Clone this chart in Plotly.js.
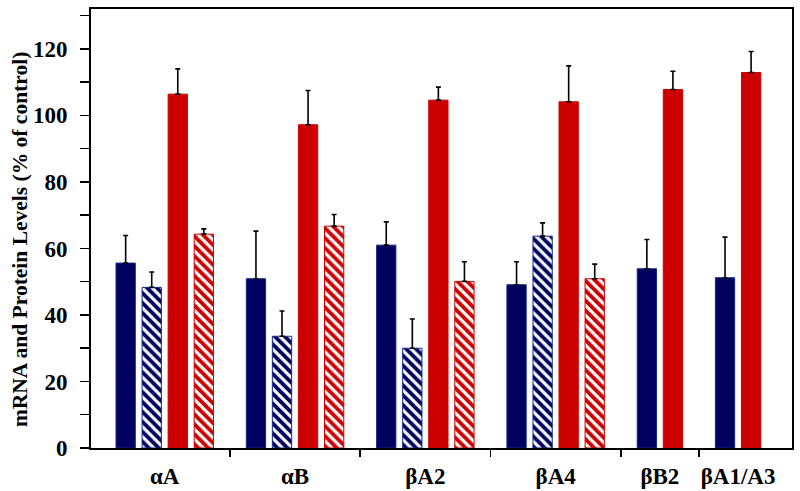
<!DOCTYPE html>
<html>
<head>
<meta charset="utf-8">
<script src="https://cdn.plot.ly/plotly-3.0.1.min.js"></script>
<style>
  html, body { margin: 0; padding: 0; background: #fff; }
  #chart { width: 800px; height: 491px; }
</style>
</head>
<body>
<div id="chart"></div>
<script>
// ---- data ----
const categories = ['αA', 'αB', 'βA2', 'βA4', 'βB2', 'βA1/A3'];

const navySolid       = [55.6, 50.9, 61.0, 49.1, 53.9, 51.2];
const navySolidErr    = [8.3, 14.3, 7.0, 6.9, 8.8, 12.2];

const navyHatched     = [48.3, 33.6, 30.0, 63.7, null, null];
const navyHatchedErr  = [4.6, 7.6, 8.8, 4.0, null, null];

const redSolid        = [106.4, 97.2, 104.6, 104.1, 107.8, 112.9];
const redSolidErr     = [7.6, 10.3, 3.9, 10.8, 5.5, 6.3];

const redHatched      = [64.3, 66.7, 50.1, 50.9, null, null];
const redHatchedErr   = [1.6, 3.5, 5.9, 4.4, null, null];

const yTicks = [0, 20, 40, 60, 80, 100, 120];
const yTitle = 'mRNA and Protein Levels (% of control)';

// ---- styling ----
const NAVY = '#00005e';
const NAVY_LINE = '#102a8c';
const RED = '#cc0000';
const FONT = 'Liberation Serif, Times New Roman, serif';

const series = [
  { name: 'Series 1', vals: navySolid,   errs: navySolidErr,   color: NAVY, line: NAVY_LINE, hatch: false },
  { name: 'Series 2', vals: navyHatched, errs: navyHatchedErr, color: NAVY, line: NAVY_LINE, hatch: true },
  { name: 'Series 3', vals: redSolid,    errs: redSolidErr,    color: RED,  line: RED,       hatch: false },
  { name: 'Series 4', vals: redHatched,  errs: redHatchedErr,  color: RED,  line: RED,       hatch: true }
];

// sequential slot layout: present bars of a group side by side, one empty slot between groups
const xPos = series.map(() => []);
const centers = [];
const bounds = [];
let slot = 0;
categories.forEach((c, gi) => {
  const start = slot;
  series.forEach((s, si) => {
    if (s.vals[gi] !== null) { xPos[si].push(slot); slot++; }
    else xPos[si].push(null);
  });
  centers.push((start + slot - 1) / 2);
  if (gi < categories.length - 1) bounds.push(slot);
  slot++;
});

const traces = series.map((s, si) => {
  const marker = { color: s.color, line: { color: s.line, width: 1 } };
  if (s.hatch) {
    marker.pattern = { shape: '\\', bgcolor: s.color, fgcolor: '#ffffff', size: 7, solidity: 0.45, fillmode: 'replace' };
  }
  return {
    type: 'bar',
    name: s.name,
    x: xPos[si],
    y: s.vals,
    width: 0.74,
    marker: marker,
    error_y: {
      type: 'data', symmetric: false,
      array: s.errs, arrayminus: s.errs.map(() => 0),
      color: '#000', thickness: 1.6, width: 2.5
    },
    showlegend: false,
    hoverinfo: 'x+y'
  };
});

// invisible trace to carry the boundary tick axis
traces.push({ type: 'scatter', x: [], y: [], xaxis: 'x2', yaxis: 'y', showlegend: false, hoverinfo: 'skip' });

const xr = [-1.33, 25.57];

const layout = {
  width: 800, height: 491,
  margin: { l: 91, r: 8, t: 9, b: 43 },
  paper_bgcolor: '#fff', plot_bgcolor: '#fff',
  barmode: 'overlay',
  font: { family: FONT, color: '#000', weight: 700 },
  xaxis: {
    range: xr, showgrid: false, zeroline: false,
    showline: true, linecolor: '#000', linewidth: 2, mirror: true,
    tickmode: 'array', tickvals: centers, ticktext: categories,
    ticks: '', tickfont: { family: FONT, size: 23, weight: 700, color: '#000' },
    ticklabelstandoff: 6
  },
  xaxis2: {
    overlaying: 'x', anchor: 'y', side: 'bottom', range: xr,
    showgrid: false, zeroline: false, showline: false,
    tickmode: 'array', tickvals: bounds, ticktext: bounds.map(() => ''),
    ticks: 'outside', ticklen: 8, tickwidth: 1.5, tickcolor: '#000'
  },
  yaxis: {
    range: [0, 132], showgrid: false, zeroline: false,
    showline: true, linecolor: '#000', linewidth: 2, mirror: true,
    tickmode: 'array', tickvals: yTicks,
    ticks: 'outside', ticklen: 9, tickwidth: 1.5, tickcolor: '#000',
    minor: { dtick: 10, ticks: 'outside', ticklen: 9, tickwidth: 1.5, tickcolor: '#000' },
    tickfont: { family: FONT, size: 23, weight: 700, color: '#000' },
    ticklabelstandoff: 8
  },
  annotations: [{
    text: yTitle, textangle: -90, showarrow: false,
    xref: 'paper', yref: 'paper', x: -0.101, y: 0.474,
    xanchor: 'center', yanchor: 'middle',
    font: { family: FONT, size: 21.5, weight: 700, color: '#000' }
  }]
};

Plotly.newPlot('chart', traces, layout, { staticPlot: true, displayModeBar: false });
</script>
</body>
</html>
